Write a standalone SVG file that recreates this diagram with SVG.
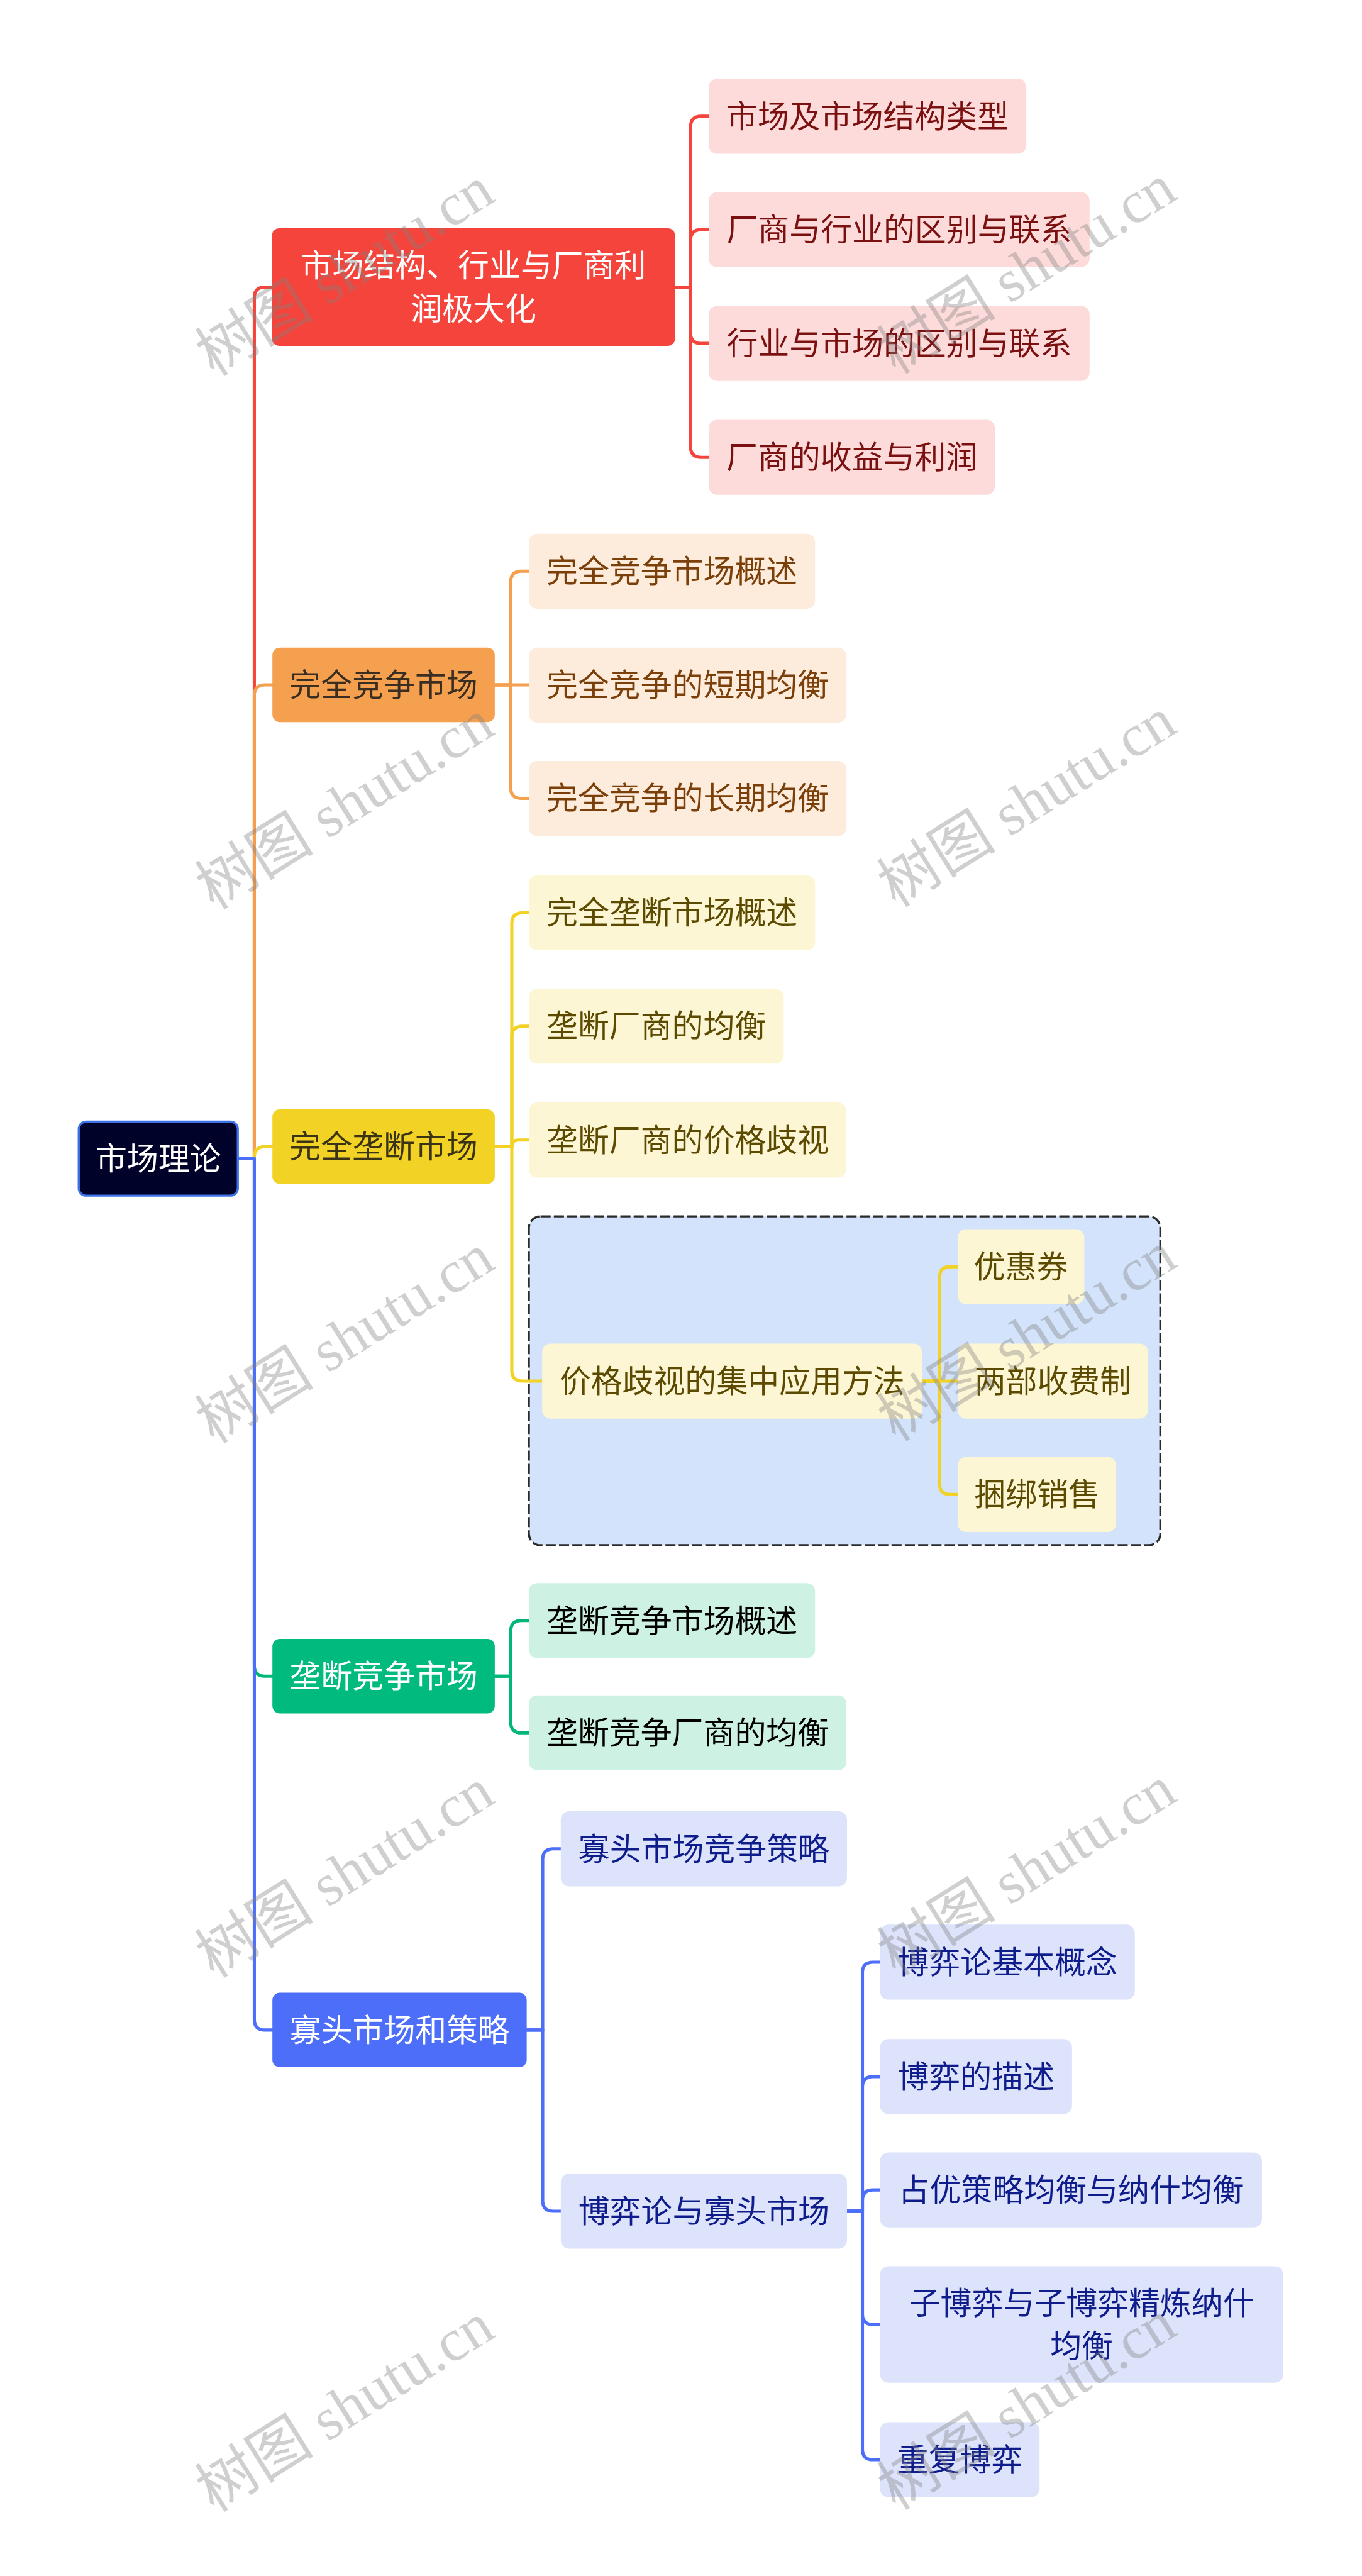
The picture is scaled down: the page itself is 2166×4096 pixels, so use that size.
<svg xmlns="http://www.w3.org/2000/svg" width="2166" height="4096" viewBox="0 0 2166 4096">
<style>
text{font-family:"Noto Sans CJK SC","Noto Sans",sans-serif;font-size:59px;text-anchor:middle}
.c{fill:none;stroke-width:6;stroke-linecap:round;stroke-linejoin:round}
.wm{font-family:"Liberation Serif","Noto Sans CJK SC",serif;font-size:112px;fill:#808080;fill-opacity:0.38}
.red{stroke:#F5443B}.org{stroke:#F5A04E}.yel{stroke:#F2D224}.grn{stroke:#00B67B}.blu{stroke:#4C6EF8}
.rL1{fill:#F5443B}.rL2{fill:#FDDBDA}.rT2{fill:#7A1010}
.oL1{fill:#F5A04E}.oL2{fill:#FDEBDC}.oT1{fill:#3A2E22}.oT2{fill:#7B3F0A}
.yL1{fill:#F2D224}.yL2{fill:#FCF6D4}.yT1{fill:#3A3316}.yT2{fill:#5C4A00}
.gL1{fill:#00BB7D}.gL2{fill:#CDF1E2}.gT2{fill:#000000}
.bL1{fill:#4C6EF8}.bL2{fill:#DCE3FB}.bT2{fill:#0F1C8C}
.w{fill:#FFFFFF}
</style>
<rect width="2166" height="4096" fill="#FFFFFF"/>
<g transform="scale(0.846094)">
<g id="group-price-discrimination">
<rect x="994" y="2286" width="1187" height="618" rx="22" fill="#D3E3FB" stroke="#2B2B2B" stroke-width="4" stroke-dasharray="19 6"/>
</g>
<g id="connectors">
<path class="c red" d="M447 2177 H478 V559.5 Q478 539.5 498 539.5 H511"/>
<path class="c org" d="M447 2177 H478 V1307 Q478 1287 498 1287 H512"/>
<path class="c yel" d="M447 2177 H478 V2175 Q478 2155 498 2155 H512"/>
<path class="c grn" d="M447 2177 H478 V3130 Q478 3150 498 3150 H512"/>
<path class="c blu" d="M447 2177 H478 V3795 Q478 3815 498 3815 H512"/>
<path class="c red" d="M1269 539.5 H1298 V238.5 Q1298 218.5 1318 218.5 H1332"/>
<path class="c red" d="M1269 539.5 H1298 V451.5 Q1298 431.5 1318 431.5 H1332"/>
<path class="c red" d="M1269 539.5 H1298 V625.5 Q1298 645.5 1318 645.5 H1332"/>
<path class="c red" d="M1269 539.5 H1298 V839.5 Q1298 859.5 1318 859.5 H1332"/>
<path class="c org" d="M930 1287 H960 V1093.5 Q960 1073.5 980 1073.5 H994"/>
<path class="c org" d="M930 1287 H994"/>
<path class="c org" d="M930 1287 H960 V1480.5 Q960 1500.5 980 1500.5 H994"/>
<path class="c yel" d="M930 2155 H962 V1735.5 Q962 1715.5 982 1715.5 H994"/>
<path class="c yel" d="M930 2155 H962 V1948.5 Q962 1928.5 982 1928.5 H994"/>
<path class="c yel" d="M930 2155 H962 Q962 2142.5 974.5 2142.5 H994"/>
<path class="c yel" d="M930 2155 H962 V2575.5 Q962 2595.5 982 2595.5 H1019"/>
<path class="c yel" d="M1733 2595.5 H1766 V2400.5 Q1766 2380.5 1786 2380.5 H1800"/>
<path class="c yel" d="M1733 2595.5 H1800"/>
<path class="c yel" d="M1733 2595.5 H1766 V2788.5 Q1766 2808.5 1786 2808.5 H1800"/>
<path class="c grn" d="M930 3150 H960 V3065.5 Q960 3045.5 980 3045.5 H994"/>
<path class="c grn" d="M930 3150 H960 V3236.5 Q960 3256.5 980 3256.5 H994"/>
<path class="c blu" d="M990 3815 H1020 V3494.5 Q1020 3474.5 1040 3474.5 H1054"/>
<path class="c blu" d="M990 3815 H1020 V4135.5 Q1020 4155.5 1040 4155.5 H1054"/>
<path class="c blu" d="M1592 4155.5 H1621 V3707.5 Q1621 3687.5 1641 3687.5 H1654"/>
<path class="c blu" d="M1592 4155.5 H1621 V3922.5 Q1621 3902.5 1641 3902.5 H1654"/>
<path class="c blu" d="M1592 4155.5 H1621 V4135.5 Q1621 4115.5 1641 4115.5 H1654"/>
<path class="c blu" d="M1592 4155.5 H1621 V4348.5 Q1621 4368.5 1641 4368.5 H1654"/>
<path class="c blu" d="M1592 4155.5 H1621 V4602.5 Q1621 4622.5 1641 4622.5 H1654"/>
</g>
<g id="root"><rect x="148" y="2108" width="299" height="139" rx="14" fill="#000229" stroke="#3D72E6" stroke-width="4"/><text class="w" x="297.5" y="2198.5">市场理论</text></g>
<g id="n-red"><rect class="rL1" x="511" y="429" width="758" height="221" rx="14"/><text class="w" x="890" y="520">市场结构、行业与厂商利</text><text class="w" x="890" y="601">润极大化</text></g>
<g id="n-red-1"><rect class="rL2" x="1332" y="148" width="597" height="141" rx="16"/><text class="rT2" x="1630.5" y="239.5">市场及市场结构类型</text></g>
<g id="n-red-2"><rect class="rL2" x="1332" y="361" width="716" height="141" rx="16"/><text class="rT2" x="1690" y="452.5">厂商与行业的区别与联系</text></g>
<g id="n-red-3"><rect class="rL2" x="1332" y="575" width="716" height="141" rx="16"/><text class="rT2" x="1690" y="666.5">行业与市场的区别与联系</text></g>
<g id="n-red-4"><rect class="rL2" x="1332" y="789" width="538" height="141" rx="16"/><text class="rT2" x="1601" y="880.5">厂商的收益与利润</text></g>
<g id="n-org"><rect class="oL1" x="512" y="1217" width="418" height="140" rx="14"/><text class="oT1" x="721" y="1308">完全竞争市场</text></g>
<g id="n-org-1"><rect class="oL2" x="994" y="1003" width="538" height="141" rx="16"/><text class="oT2" x="1263" y="1094.5">完全竞争市场概述</text></g>
<g id="n-org-2"><rect class="oL2" x="994" y="1217" width="597" height="141" rx="16"/><text class="oT2" x="1292.5" y="1308.5">完全竞争的短期均衡</text></g>
<g id="n-org-3"><rect class="oL2" x="994" y="1430" width="597" height="141" rx="16"/><text class="oT2" x="1292.5" y="1521.5">完全竞争的长期均衡</text></g>
<g id="n-yel"><rect class="yL1" x="512" y="2085" width="418" height="140" rx="14"/><text class="yT1" x="721" y="2176">完全垄断市场</text></g>
<g id="n-yel-1"><rect class="yL2" x="994" y="1645" width="538" height="141" rx="16"/><text class="yT2" x="1263" y="1736.5">完全垄断市场概述</text></g>
<g id="n-yel-2"><rect class="yL2" x="994" y="1858" width="479" height="141" rx="16"/><text class="yT2" x="1233.5" y="1949.5">垄断厂商的均衡</text></g>
<g id="n-yel-3"><rect class="yL2" x="994" y="2072" width="597" height="141" rx="16"/><text class="yT2" x="1292.5" y="2163.5">垄断厂商的价格歧视</text></g>
<g id="n-yel-4"><rect class="yL2" x="1019" y="2525" width="714" height="141" rx="16"/><text class="yT2" x="1376" y="2616.5">价格歧视的集中应用方法</text></g>
<g id="n-yel-4a"><rect class="yL2" x="1800" y="2310" width="238" height="141" rx="16"/><text class="yT2" x="1919" y="2401.5">优惠券</text></g>
<g id="n-yel-4b"><rect class="yL2" x="1800" y="2525" width="358" height="141" rx="16"/><text class="yT2" x="1979" y="2616.5">两部收费制</text></g>
<g id="n-yel-4c"><rect class="yL2" x="1800" y="2738" width="298" height="141" rx="16"/><text class="yT2" x="1949" y="2829.5">捆绑销售</text></g>
<g id="n-grn"><rect class="gL1" x="512" y="3080" width="418" height="140" rx="14"/><text class="w" x="721" y="3171">垄断竞争市场</text></g>
<g id="n-grn-1"><rect class="gL2" x="994" y="2975" width="538" height="141" rx="16"/><text class="gT2" x="1263" y="3066.5">垄断竞争市场概述</text></g>
<g id="n-grn-2"><rect class="gL2" x="994" y="3186" width="597" height="141" rx="16"/><text class="gT2" x="1292.5" y="3277.5">垄断竞争厂商的均衡</text></g>
<g id="n-blu"><rect class="bL1" x="512" y="3745" width="478" height="140" rx="14"/><text class="w" x="751" y="3836">寡头市场和策略</text></g>
<g id="n-blu-1"><rect class="bL2" x="1054" y="3404" width="538" height="141" rx="16"/><text class="bT2" x="1323" y="3495.5">寡头市场竞争策略</text></g>
<g id="n-blu-2"><rect class="bL2" x="1054" y="4085" width="538" height="141" rx="16"/><text class="bT2" x="1323" y="4176.5">博弈论与寡头市场</text></g>
<g id="n-blu-2a"><rect class="bL2" x="1654" y="3617" width="479" height="141" rx="16"/><text class="bT2" x="1893.5" y="3708.5">博弈论基本概念</text></g>
<g id="n-blu-2b"><rect class="bL2" x="1654" y="3832" width="361" height="141" rx="16"/><text class="bT2" x="1834.5" y="3923.5">博弈的描述</text></g>
<g id="n-blu-2c"><rect class="bL2" x="1654" y="4045" width="718" height="141" rx="16"/><text class="bT2" x="2013" y="4136.5">占优策略均衡与纳什均衡</text></g>
<g id="n-blu-2d"><rect class="bL2" x="1654" y="4259" width="758" height="219" rx="16"/><text class="bT2" x="2033" y="4349">子博弈与子博弈精炼纳什</text><text class="bT2" x="2033" y="4430">均衡</text></g>
<g id="n-blu-2e"><rect class="bL2" x="1654" y="4552" width="300" height="141" rx="16"/><text class="bT2" x="1804" y="4643.5">重复博弈</text></g>
<g id="watermarks">
<text class="wm" transform="translate(648 510) rotate(-32)" y="38">树图 shutu.cn</text>
<text class="wm" transform="translate(1930 506) rotate(-32)" y="38">树图 shutu.cn</text>
<text class="wm" transform="translate(648 1512) rotate(-32)" y="38">树图 shutu.cn</text>
<text class="wm" transform="translate(1930 1508) rotate(-32)" y="38">树图 shutu.cn</text>
<text class="wm" transform="translate(648 2516) rotate(-32)" y="38">树图 shutu.cn</text>
<text class="wm" transform="translate(1930 2512) rotate(-32)" y="38">树图 shutu.cn</text>
<text class="wm" transform="translate(648 3520) rotate(-32)" y="38">树图 shutu.cn</text>
<text class="wm" transform="translate(1930 3516) rotate(-32)" y="38">树图 shutu.cn</text>
<text class="wm" transform="translate(648 4524) rotate(-32)" y="38">树图 shutu.cn</text>
<text class="wm" transform="translate(1930 4520) rotate(-32)" y="38">树图 shutu.cn</text>
</g>
</g>
</svg>
